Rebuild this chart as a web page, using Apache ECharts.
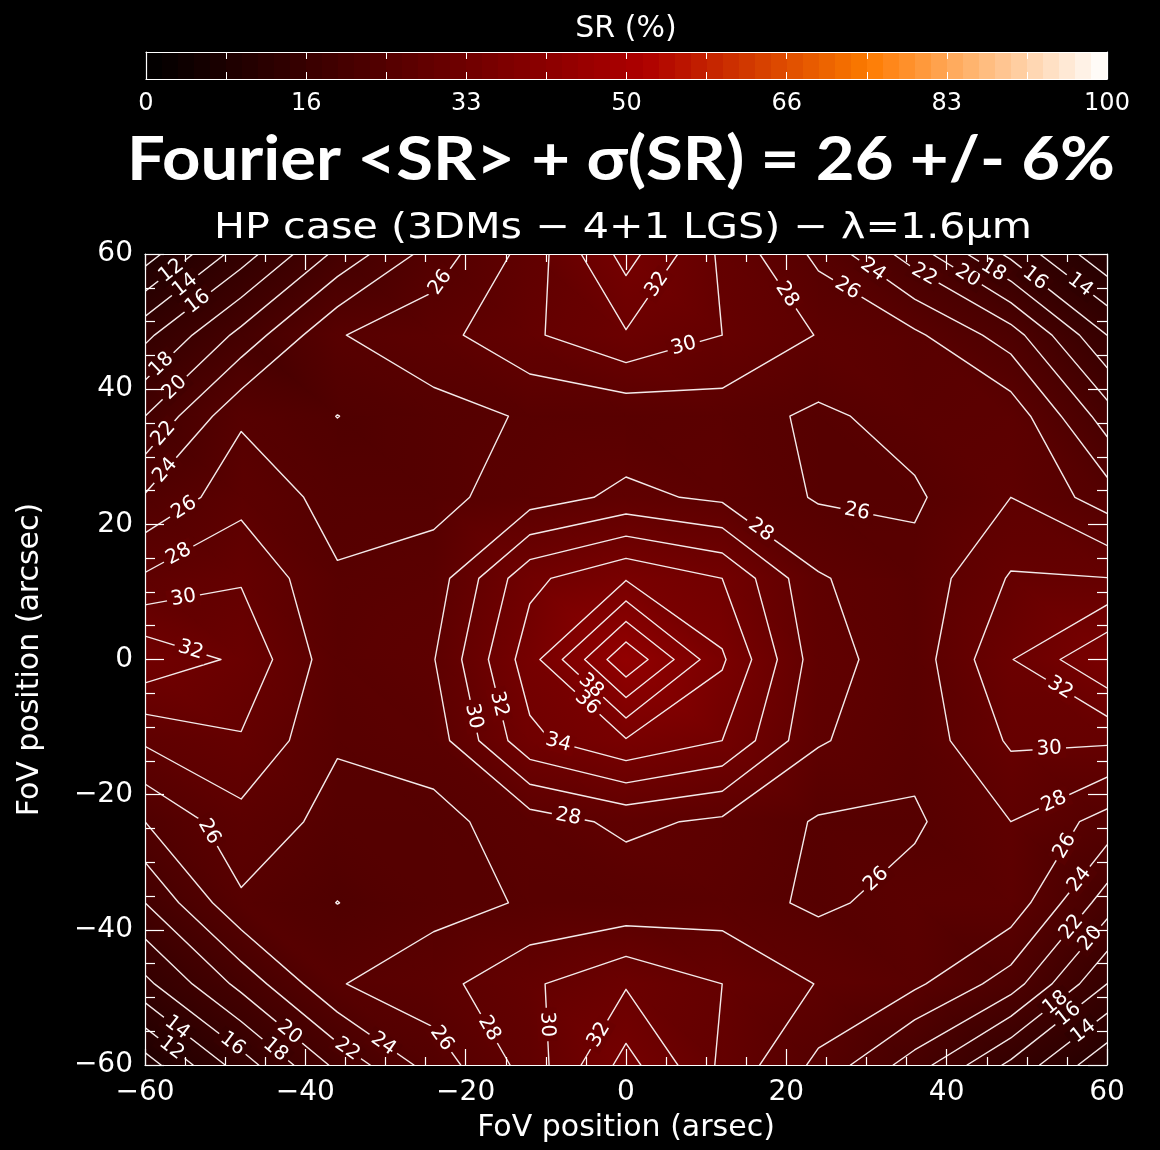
<!DOCTYPE html>
<html>
<head>
<meta charset="utf-8">
<script src="https://cdn.jsdelivr.net/npm/echarts@6/dist/echarts.min.js"></script>
<style>
  html, body { margin: 0; padding: 0; background: #000; }
  #chart { width: 1160px; height: 1150px; }
</style>
</head>
<body>
<div id="chart"></div>
<script>
// Field-of-view sampling positions (arcsec)
const xPositions = [-60, -48, -36, -24, -12, 0, 12, 24, 36, 48, 60];
const yPositions = [60, 48, 36, 24, 12, 0, -12, -24, -36, -48, -60];

// Strehl ratio (%) per row, columns ordered x = -60 ... +60
const srRowP60 = [9.0, 15.0, 20.5, 24.9, 28.8, 34.8, 29.6, 25.5, 21.0, 15.5, 10.5];
const srRowP48 = [15.5, 20.6, 25.87, 27.26, 29.66, 31.8, 30.0, 27.9, 26.4, 23.0, 16.0];
const srRowP36 = [20.0, 25.7, 23.97, 25.3, 26.2, 26.5, 26.95, 25.6, 26.8, 27.3, 21.0];
const srRowP24 = [24.2, 27.3, 25.3, 25.4, 27.0, 28.5, 27.6, 25.8, 25.7, 28.0, 25.0];
const srRowP12 = [28.3, 29.8, 26.2, 26.9, 33.5, 35.8, 34.0, 28.2, 26.65, 30.2, 30.05];
const srRow0   = [33.5, 31.6, 26.7, 27.9, 35.1, 43.7, 36.3, 28.8, 26.9, 31.9, 36.0];
const srRowM12 = [28.3, 29.8, 26.2, 26.9, 33.5, 35.8, 34.0, 28.2, 26.65, 30.3, 30.3];
const srRowM24 = [24.0, 27.3, 25.3, 25.4, 27.0, 28.5, 27.6, 25.8, 25.7, 28.0, 25.2];
const srRowM36 = [20.0, 25.7, 23.97, 25.3, 26.2, 26.5, 26.95, 25.6, 26.8, 27.3, 21.0];
const srRowM48 = [15.5, 20.6, 25.87, 27.26, 29.66, 31.8, 30.0, 27.9, 26.4, 23.0, 16.0];
const srRowM60 = [9.0, 15.0, 20.5, 24.9, 28.8, 34.8, 29.6, 25.5, 21.0, 15.5, 10.5];

// Contour levels (%)
const contourLevels = [10, 12, 14, 16, 18, 20, 22, 24, 26, 28, 30, 32, 34, 36, 38, 40, 42, 44];

// Where each contour gets its level written: [level, near x, near y] (arcsec)
const contourLabelSpots = [
  [12, -56.3, 57.0], [14, -54.4, 54.0], [16, -53.2, 52.1], [18, -58.2, 41.0], [20, -55.9, 39.2],
  [22, -56.3, 31.8], [24, -55.7, 25.9], [26, -54.7, 21.9], [28, -55.9, 16.6], [30, -55.3, 9.2],
  [32, -54.2, 1.5], [26, -22.0, 54.7], [32, 3.6, 55.5], [30, 7.0, 45.9], [28, 19.6, 53.6],
  [26, 26.7, 52.5], [24, 29.5, 55.9], [22, 36.1, 55.5], [20, 42.3, 55.8], [18, 43.6, 58.0],
  [16, 50.4, 56.2], [14, 55.7, 54.0], [26, 28.6, 22.2], [28, 16.7, 18.5], [38, -4.2, -3.7],
  [36, -4.5, -6.2], [34, -7.6, -9.3], [32, -14.2, -5.9], [30, -18.0, -8.1], [28, -7.2, -22.9],
  [32, 53.9, -4.1], [30, 52.7, -12.6], [28, 52.7, -20.0], [26, 52.9, -26.3], [24, 55.4, -31.4],
  [22, 54.6, -38.8], [20, 56.9, -40.2], [18, 52.9, -49.9], [16, 54.2, -51.3], [14, 55.8, -53.0],
  [26, 31.1, -32.5], [26, -50.9, -24.7], [14, -54.7, -52.8], [12, -55.1, -57.0], [16, -48.6, -56.2],
  [18, -42.8, -57.0], [20, -41.7, -54.4], [22, -30.3, -57.2], [24, -28.6, -54.4], [26, -21.6, -54.7],
  [28, -17.0, -54.3], [30, -9.5, -53.7], [32, -3.5, -55.5]
];

// Colour bar range and tick labels
const colorbarRange = [0, 100];
const colorbarTickLabels = ['0', '16', '33', '50', '66', '83', '100'];

const titleText = 'Fourier <SR> + \u03c3(SR) = 26 +/- 6%';
const subtitleText = 'HP case (3DMs \u2212 4+1 LGS) \u2212 \u03bb=1.6\u03bcm';

const srGrid = [srRowP60, srRowP48, srRowP36, srRowP24, srRowP12, srRow0,
                srRowM12, srRowM24, srRowM36, srRowM48, srRowM60];

// Red-temperature colour table (black -> red -> orange -> white)
function srColor(v) {
  const p = Math.max(0, Math.min(100, v));
  const r = Math.min(255, p * 3.35);
  const g = p > 52 ? Math.min(255, (p - 52) / 48 * 255) : 0;
  const b = p > 75 ? Math.min(255, (p - 75) / 25 * 255) : 0;
  return 'rgb(' + Math.round(r) + ',' + Math.round(g) + ',' + Math.round(b) + ')';
}

// ---------- cells of the SR map (each split into two linear triangles) ----------
const cellData = [];
for (let r = 0; r < srGrid.length - 1; r++) {
  for (let c = 0; c < xPositions.length - 1; c++) {
    cellData.push([xPositions[c], yPositions[r], xPositions[c + 1], yPositions[r + 1],
                   srGrid[r][c], srGrid[r][c + 1], srGrid[r + 1][c + 1], srGrid[r + 1][c]]);
  }
}

function shadedTriangle(pts, vals) {
  const p0 = pts[0], p1 = pts[1], p2 = pts[2];
  const v0 = vals[0], v1 = vals[1], v2 = vals[2];
  const e1x = p1[0] - p0[0], e1y = p1[1] - p0[1];
  const e2x = p2[0] - p0[0], e2y = p2[1] - p0[1];
  const d1 = v1 - v0, d2 = v2 - v0;
  const det = e1x * e2y - e1y * e2x;
  const vmin = Math.min(v0, v1, v2), vmax = Math.max(v0, v1, v2);
  let fill;
  if (Math.abs(det) < 1e-9 || vmax - vmin < 1e-6) {
    fill = srColor((v0 + v1 + v2) / 3);
  } else {
    const gx = (d1 * e2y - e1y * d2) / det;
    const gy = (e1x * d2 - d1 * e2x) / det;
    const g2 = gx * gx + gy * gy;
    const ax = p0[0] + gx * (vmin - v0) / g2, ay = p0[1] + gy * (vmin - v0) / g2;
    const bx = p0[0] + gx * (vmax - v0) / g2, by = p0[1] + gy * (vmax - v0) / g2;
    const stops = [];
    for (let k = 0; k <= 4; k++) {
      const t = k / 4;
      stops.push({ offset: t, color: srColor(vmin + t * (vmax - vmin)) });
    }
    fill = new echarts.graphic.LinearGradient(ax, ay, bx, by, stops, true);
  }
  return { type: 'polygon', shape: { points: pts }, style: { fill: fill, stroke: fill, lineWidth: 0.9 } };
}

function renderCell(params, api) {
  const x0 = api.value(0), y0 = api.value(1), x1 = api.value(2), y1 = api.value(3);
  const tl = api.coord([x0, y0]), tr = api.coord([x1, y0]);
  const br = api.coord([x1, y1]), bl = api.coord([x0, y1]);
  const vtl = api.value(4), vtr = api.value(5), vbr = api.value(6), vbl = api.value(7);
  return {
    type: 'group',
    children: [
      shadedTriangle([tl, tr, br], [vtl, vtr, vbr]),
      shadedTriangle([tl, br, bl], [vtl, vbr, vbl])
    ]
  };
}

// ---------- contour extraction (marching squares) ----------
function edgePoint(kind, r, c, level) {
  if (kind === 'h') {
    const za = srGrid[r][c], zb = srGrid[r][c + 1];
    const t = (level - za) / (zb - za);
    return [xPositions[c] + t * (xPositions[c + 1] - xPositions[c]), yPositions[r]];
  }
  const za = srGrid[r][c], zb = srGrid[r + 1][c];
  const t = (level - za) / (zb - za);
  return [xPositions[c], yPositions[r] + t * (yPositions[r + 1] - yPositions[r])];
}

function contourPathsFor(level) {
  const segs = [];
  const nr = srGrid.length, nc = xPositions.length;
  for (let r = 0; r < nr - 1; r++) {
    for (let c = 0; c < nc - 1; c++) {
      const tl = srGrid[r][c], tr = srGrid[r][c + 1], br = srGrid[r + 1][c + 1], bl = srGrid[r + 1][c];
      const s = [tl >= level, tr >= level, br >= level, bl >= level];
      const top = ['h', r, c], right = ['v', r, c + 1], bottom = ['h', r + 1, c], left = ['v', r, c];
      const cross = [];
      if (s[0] !== s[1]) cross.push(top);
      if (s[1] !== s[2]) cross.push(right);
      if (s[2] !== s[3]) cross.push(bottom);
      if (s[3] !== s[0]) cross.push(left);
      if (cross.length === 2) {
        segs.push([cross[0], cross[1]]);
      } else if (cross.length === 4) {
        const centre = (tl + tr + br + bl) / 4 >= level;
        if (centre === s[0]) { segs.push([top, right]); segs.push([bottom, left]); }
        else { segs.push([left, top]); segs.push([right, bottom]); }
      }
    }
  }
  const key = e => e.join(':');
  const byEdge = {};
  segs.forEach((sg, i) => {
    sg.forEach(e => { (byEdge[key(e)] = byEdge[key(e)] || []).push(i); });
  });
  const used = new Array(segs.length).fill(false);
  const paths = [];
  function walk(startSeg, startEdge) {
    const edges = [startEdge];
    let seg = startSeg, edge = startEdge;
    while (seg !== -1 && !used[seg]) {
      used[seg] = true;
      const other = key(segs[seg][0]) === key(edge) ? segs[seg][1] : segs[seg][0];
      edges.push(other);
      const nextList = (byEdge[key(other)] || []).filter(i => !used[i]);
      seg = nextList.length ? nextList[0] : -1;
      edge = other;
    }
    return edges;
  }
  Object.keys(byEdge).forEach(k => {
    const list = byEdge[k];
    if (list.length === 1 && !used[list[0]]) {
      const sg = segs[list[0]];
      const startEdge = key(sg[0]) === k ? sg[0] : sg[1];
      paths.push({ closed: false, edges: walk(list[0], startEdge) });
    }
  });
  segs.forEach((sg, i) => {
    if (!used[i]) paths.push({ closed: true, edges: walk(i, sg[0]) });
  });
  return paths.map(p => ({
    level: level,
    closed: p.closed,
    pts: p.edges.map(e => edgePoint(e[0], e[1], e[2], level))
  }));
}

const contourPaths = [];
contourLevels.forEach(lv => { contourPathsFor(lv).forEach(p => contourPaths.push(p)); });
const contourData = contourPaths.map((p, i) => [i, p.level]);

function renderContour(params, api) {
  const path = contourPaths[api.value(0)];
  const pts = path.pts.map(p => api.coord(p));
  return {
    type: 'polyline',
    shape: { points: pts },
    style: { stroke: '#f4eaea', lineWidth: 1.4, fill: null, lineJoin: 'round', lineCap: 'round' }
  };
}

function renderContourLabel(params, api) {
  const pos = api.coord([api.value(0), api.value(1)]);
  const level = api.value(2);
  return {
    type: 'text',
    x: pos[0], y: pos[1],
    rotation: api.value(3),
    z2: 10,
    style: {
      x: 0, y: 0,
      text: String(level),
      fill: '#ffffff',
      font: '20px "DejaVu Sans"',
      align: 'center', verticalAlign: 'middle',
      backgroundColor: srColor(level),
      padding: [0, 4]
    }
  };
}

function renderColorbar(params, api) {
  const a = api.coord([api.value(0), 0]);
  const b = api.coord([api.value(1), 1]);
  const bands = 60;
  const stops = [];
  for (let k = 0; k < bands; k++) {
    const col = srColor(colorbarRange[0] + (k + 0.5) / bands * (colorbarRange[1] - colorbarRange[0]));
    stops.push({ offset: k / bands, color: col });
    stops.push({ offset: (k + 1) / bands, color: col });
  }
  return {
    type: 'rect',
    shape: { x: a[0], y: b[1], width: b[0] - a[0], height: a[1] - b[1] },
    style: { fill: new echarts.graphic.LinearGradient(a[0], 0, b[0], 0, stops, true) }
  };
}

const axisFont = '"DejaVu Sans"';
const minusFmt = v => (v < 0 ? '\u2212' + Math.abs(v) : String(v));
const whiteLine = { show: true, onZero: false, lineStyle: { color: '#ffffff', width: 1.2 } };

function plotAxis(extra) {
  return Object.assign({
    type: 'value', min: -60, max: 60, interval: 20, gridIndex: 0, z: 10,
    axisLine: whiteLine,
    splitLine: { show: false },
    axisTick: { show: true, inside: true, length: 16, lineStyle: { color: '#ffffff', width: 1.2 } },
    minorTick: { show: true, splitNumber: 4, length: 8, lineStyle: { color: '#ffffff', width: 1.2 } },
    axisLabel: { show: false }
  }, extra);
}

const chart = echarts.init(document.getElementById('chart'), null, { width: 1160, height: 1150 });

const titleFontSize = 62;
const measureCtx = document.createElement('canvas').getContext('2d');
measureCtx.font = 'bold ' + titleFontSize + 'px Lato';
const titleScale = 988 / measureCtx.measureText(titleText).width;
measureCtx.font = '36px "DejaVu Sans"';
const subtitleScale = 818 / measureCtx.measureText(subtitleText).width;

const option = {
  backgroundColor: '#000000',
  animation: false,
  grid: [
    { left: 145, top: 254, width: 962, height: 811 },
    { left: 146, top: 52, width: 961, height: 27 }
  ],
  xAxis: [
    plotAxis({
      position: 'bottom',
      axisLabel: { show: true, color: '#ffffff', fontSize: 28, fontFamily: axisFont, margin: 14, formatter: minusFmt },
      name: 'FoV position (arsec)', nameLocation: 'middle', nameGap: 48,
      nameTextStyle: { color: '#ffffff', fontSize: 30, fontFamily: axisFont }
    }),
    plotAxis({ position: 'top' }),
    {
      type: 'value', gridIndex: 1, min: colorbarRange[0], max: colorbarRange[1], interval: 100 / 6,
      position: 'bottom', z: 10,
      axisLine: whiteLine, splitLine: { show: false },
      axisTick: { show: true, inside: true, length: 7, lineStyle: { color: '#ffffff' } },
      minorTick: { show: true, splitNumber: 2, length: 7, lineStyle: { color: '#ffffff' } },
      axisLabel: {
        show: true, color: '#ffffff', fontSize: 24, fontFamily: axisFont, margin: 13,
        formatter: v => colorbarTickLabels[Math.round(v / (100 / 6))]
      }
    },
    {
      type: 'value', gridIndex: 1, min: colorbarRange[0], max: colorbarRange[1], interval: 100 / 6,
      position: 'top', z: 10,
      axisLine: whiteLine, splitLine: { show: false },
      axisTick: { show: true, inside: true, length: 7, lineStyle: { color: '#ffffff' } },
      minorTick: { show: true, splitNumber: 2, length: 7, lineStyle: { color: '#ffffff' } },
      axisLabel: { show: false }
    }
  ],
  yAxis: [
    plotAxis({
      position: 'left',
      axisTick: { show: true, inside: true, length: 19, lineStyle: { color: '#ffffff', width: 1.2 } },
      minorTick: { show: true, splitNumber: 4, length: 10, lineStyle: { color: '#ffffff', width: 1.2 } },
      axisLabel: { show: true, color: '#ffffff', fontSize: 28, fontFamily: axisFont, margin: 12, formatter: minusFmt },
      name: 'FoV position (arcsec)', nameLocation: 'middle', nameGap: 100, nameRotate: 90,
      nameTextStyle: { color: '#ffffff', fontSize: 30, fontFamily: axisFont }
    }),
    plotAxis({
      position: 'right',
      axisTick: { show: true, inside: true, length: 19, lineStyle: { color: '#ffffff', width: 1.2 } },
      minorTick: { show: true, splitNumber: 4, length: 10, lineStyle: { color: '#ffffff', width: 1.2 } }
    }),
    { type: 'value', gridIndex: 1, min: 0, max: 1, position: 'left', axisLine: whiteLine,
      axisTick: { show: false }, axisLabel: { show: false }, splitLine: { show: false }, z: 10 },
    { type: 'value', gridIndex: 1, min: 0, max: 1, position: 'right', axisLine: whiteLine,
      axisTick: { show: false }, axisLabel: { show: false }, splitLine: { show: false }, z: 10 }
  ],
  graphic: [
    { type: 'text', x: 626, y: 29, style: { text: 'SR (%)', fill: '#ffffff', font: '30px "DejaVu Sans"', align: 'center', verticalAlign: 'middle' } },
    { type: 'text', x: 621, y: 160, scaleX: titleScale,
      style: { text: titleText, fill: '#ffffff', font: 'bold ' + titleFontSize + 'px Lato', align: 'center', verticalAlign: 'middle' } },
    { type: 'text', x: 623, y: 229, scaleX: subtitleScale,
      style: { text: subtitleText, fill: '#ffffff', font: '36px "DejaVu Sans"', align: 'center', verticalAlign: 'middle' } }
  ],
  series: [
    { type: 'custom', id: 'map', xAxisIndex: 0, yAxisIndex: 0, renderItem: renderCell, data: cellData,
      encode: { x: [0, 2], y: [1, 3] }, clip: true, silent: true, z: 1 },
    { type: 'custom', id: 'contours', xAxisIndex: 0, yAxisIndex: 0, renderItem: renderContour, data: contourData,
      clip: true, silent: true, z: 2 },
    { type: 'custom', id: 'labels', xAxisIndex: 0, yAxisIndex: 0, renderItem: renderContourLabel, data: [],
      clip: true, silent: true, z: 3 },
    { type: 'custom', id: 'colorbar', xAxisIndex: 2, yAxisIndex: 2, renderItem: renderColorbar,
      data: [[colorbarRange[0], colorbarRange[1]]], encode: { x: [0, 1] }, silent: true, z: 1 }
  ]
};

chart.setOption(option);

// ---------- snap each level label onto its contour, oriented along the line ----------
const toPx = p => chart.convertToPixel({ seriesIndex: 1 }, p);
const corner0 = toPx([-60, 60]), corner1 = toPx([60, -60]);
const margin = 15;
const insidePlot = (x, y) => x > corner0[0] + margin && x < corner1[0] - margin &&
                             y > corner0[1] + margin && y < corner1[1] - margin;
const labelItems = [];
contourLabelSpots.forEach(spot => {
  const level = spot[0];
  const target = toPx([spot[1], spot[2]]);
  let best = null;
  contourPaths.forEach(path => {
    if (path.level !== level) return;
    const px = path.pts.map(toPx);
    for (let i = 1; i < px.length; i++) {
      const ax = px[i - 1][0], ay = px[i - 1][1], bx = px[i][0], by = px[i][1];
      for (let k = 0; k <= 20; k++) {
        const t = k / 20;
        const qx = ax + t * (bx - ax), qy = ay + t * (by - ay);
        if (!insidePlot(qx, qy)) continue;
        const dist = Math.hypot(qx - target[0], qy - target[1]);
        if (!best || dist < best.dist) {
          best = { dist: dist, path: path, i: i, t: t, dx: bx - ax, dy: by - ay };
        }
      }
    }
  });
  if (!best || best.dist > 45) return;
  const d = best.path.pts;
  const x = d[best.i - 1][0] + best.t * (d[best.i][0] - d[best.i - 1][0]);
  const y = d[best.i - 1][1] + best.t * (d[best.i][1] - d[best.i - 1][1]);
  let rot = Math.atan2(-best.dy, best.dx);
  if (rot > Math.PI / 2) rot -= Math.PI;
  if (rot < -Math.PI / 2) rot += Math.PI;
  labelItems.push([x, y, level, rot]);
});
chart.setOption({ series: [{ id: 'labels', data: labelItems }] });
</script>
</body>
</html>
